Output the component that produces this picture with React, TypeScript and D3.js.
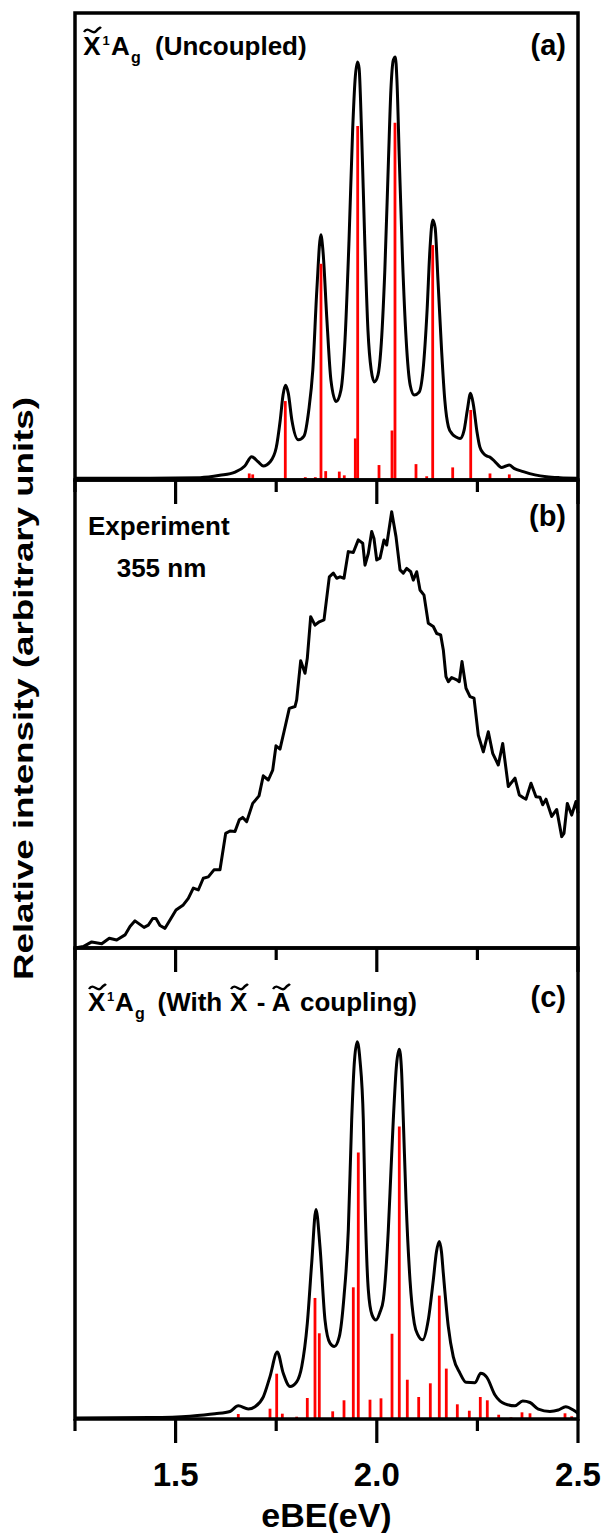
import React from "react";
import * as d3 from "d3";

// ---------- data ----------
const xDomain: [number, number] = [1.25, 2.5];
const majorTicks = [1.5, 2.0, 2.5];
const minorTicks = [1.25, 1.75, 2.25];
const tickLabels = ["1.5", "2.0", "2.5"];

// Panel (a): uncoupled envelope (eV, relative intensity)
const envA: [number, number][] = [
  [1.25, 0.4], [1.436, 0.4], [1.561, 0.5], [1.61, 1.0], [1.648, 1.7], [1.672, 3.0], [1.689, 5.0], [1.705, 3.9],
  [1.718, 3.0], [1.735, 3.9], [1.75, 6.9], [1.76, 12.8], [1.767, 18.2], [1.773, 20.3], [1.78, 18.6], [1.789, 12.8],
  [1.805, 8.6], [1.819, 9.4], [1.831, 15], [1.841, 23.6], [1.851, 40.7], [1.861, 52.5], [1.866, 49.3], [1.876, 34.3],
  [1.886, 21.4], [1.899, 16.8], [1.911, 19.3], [1.921, 30], [1.931, 51.4], [1.94, 75], [1.946, 85.7], [1.952, 89.5],
  [1.956, 88.2], [1.962, 75], [1.97, 51.4], [1.978, 32.1], [1.986, 23.6], [1.994, 21], [2.003, 22.5], [2.01, 27.8],
  [2.02, 45], [2.029, 68.5], [2.035, 83.5], [2.041, 89.9], [2.046, 90.6], [2.05, 85.7], [2.056, 68.5], [2.064, 47.1],
  [2.073, 30], [2.083, 20.3], [2.093, 18.2], [2.105, 18.8], [2.115, 23.6], [2.125, 36.4], [2.132, 49.3], [2.139, 55.7],
  [2.145, 54], [2.152, 42.8], [2.161, 27.8], [2.169, 17.1], [2.178, 11.4], [2.187, 9.9], [2.197, 9.2], [2.207, 8.9],
  [2.217, 10.7], [2.225, 15], [2.233, 18.6], [2.24, 16.1], [2.249, 10.3], [2.256, 7.1], [2.265, 5.7], [2.274, 5.1],
  [2.281, 4.9], [2.294, 3.9], [2.31, 2.7], [2.321, 3.0], [2.329, 3.2], [2.341, 2.5], [2.364, 1.8], [2.393, 1.1],
  [2.422, 0.7], [2.455, 0.5], [2.498, 0.4],
];
const sticksA: [number, number][] = [
  [1.683, 1.4], [1.6916, 1.2], [1.7726, 16.9], [1.8223, 0.6], [1.8472, 0.6], [1.8613, 46.3], [1.873, 1.9],
  [1.9068, 1.8], [1.9192, 1.0], [1.9466, 8.9], [1.9525, 75.8], [1.9938, 0.2], [2.0055, 3.2], [2.0378, 10.6],
  [2.0452, 76.5], [2.0974, 3.4], [2.124, 0.8], [2.1389, 50.3], [2.1588, 0.2], [2.1886, 2.7], [2.2334, 15],
  [2.2813, 1.4], [2.3293, 1.2],
];

// Panel (b): experiment 355 nm
const expB: [number, number][] = [
  [1.25, 0], [1.2706, 0.3], [1.2915, 1.3], [1.3164, 0.9], [1.3352, 2.1], [1.3536, 1.7], [1.3743, 2.8], [1.3867, 4.6],
  [1.3991, 5.8], [1.4215, 4.4], [1.4322, 4.9], [1.4431, 6.3], [1.4513, 6.3], [1.4612, 4.8], [1.4737, 4.2], [1.4861, 6.0],
  [1.501, 8.1], [1.5191, 9.2], [1.5316, 10.6], [1.544, 12.8], [1.5564, 12.4], [1.5688, 14.9], [1.5813, 15.2], [1.5954, 16.7],
  [1.6103, 16.7], [1.6245, 24.5], [1.6352, 25.0], [1.6476, 24.9], [1.6583, 27.4], [1.6668, 27.9], [1.6767, 27.0], [1.6916, 30.9],
  [1.7073, 32.5], [1.7179, 36.8], [1.7304, 35.9], [1.7413, 38.0], [1.7495, 43.2], [1.7594, 42.5], [1.7694, 46.2], [1.7826, 51.2],
  [1.7967, 51.6], [1.8009, 53.0], [1.8109, 61.4], [1.8216, 58.7], [1.8273, 61.9], [1.8357, 70.8], [1.8464, 69.0], [1.8571, 69.7],
  [1.8688, 70.1], [1.882, 79.3], [1.8919, 80.1], [1.9003, 79.0], [1.9086, 79.3], [1.9185, 79.0], [1.9292, 84.7], [1.9416, 84.5],
  [1.954, 87.2], [1.965, 86.5], [1.9707, 81.8], [1.9789, 84.3], [1.9873, 89.0], [1.993, 87.5], [1.9998, 82.9], [2.008, 83.3],
  [2.0179, 87.2], [2.0246, 86.1], [2.037, 93.2], [2.0477, 87.9], [2.0577, 80.8], [2.0659, 80.1], [2.0743, 81.1], [2.0843, 80.4],
  [2.0907, 78.6], [2.0992, 80.4], [2.1074, 76.5], [2.1173, 75.4], [2.128, 69.4], [2.1404, 68.7], [2.1489, 67.2], [2.1588, 66.9],
  [2.1653, 63.7], [2.1719, 58.0], [2.1777, 56.9], [2.1861, 57.8], [2.1985, 57.3], [2.205, 56.9], [2.2117, 61.2], [2.2217, 55.5],
  [2.2316, 53.7], [2.2416, 53.4], [2.2522, 45.5], [2.2647, 41.9], [2.2771, 46.2], [2.288, 41.6], [2.3019, 39.1], [2.3129, 43.7],
  [2.3268, 34.5], [2.3434, 36.3], [2.3541, 32.7], [2.3641, 32.1], [2.3708, 31.8], [2.3832, 35.2], [2.3956, 32.3], [2.4056, 32.2],
  [2.4123, 30.6], [2.4205, 31.8], [2.4347, 28.1], [2.4471, 29.6], [2.4595, 23.8], [2.4652, 24.5], [2.4734, 30.9], [2.4843, 28.4],
  [2.495, 31.3], [2.5, 28.8],
];

// Panel (c): with X-A coupling
const envC: [number, number][] = [
  [1.25, 0.2], [1.4364, 0.3], [1.5358, 0.6], [1.5979, 1.1], [1.6352, 1.6], [1.6558, 2.8], [1.6807, 2.1], [1.6973, 2.6],
  [1.718, 4.7], [1.7346, 9.0], [1.7527, 14.2], [1.7676, 9.7], [1.7843, 6.9], [1.8009, 7.9], [1.8134, 11.1], [1.8273, 20.3],
  [1.8382, 33.1], [1.8489, 44.5], [1.8588, 36.6], [1.8713, 21.0], [1.8837, 16.1], [1.8944, 15.4], [1.9068, 17.5], [1.9185, 26],
  [1.9292, 40.1], [1.9376, 63.5], [1.9446, 76.2], [1.9515, 80.1], [1.9582, 76.2], [1.9665, 63.5], [1.9707, 46.5], [1.9789, 27.4],
  [1.9881, 22.1], [1.998, 21.0], [2.008, 22.7], [2.0162, 25.3], [2.0286, 40.1], [2.0353, 52.9], [2.041, 63.5], [2.049, 75.2],
  [2.0559, 78.5], [2.0614, 74.1], [2.0659, 63.5], [2.0726, 46.5], [2.0825, 29.5], [2.0932, 20.3], [2.1024, 17.8], [2.114, 16.8],
  [2.1279, 21.0], [2.1404, 29.5], [2.1483, 35.5], [2.1553, 37.7], [2.1607, 35.5], [2.1652, 31.0], [2.1777, 19.6], [2.1901, 13.2],
  [2.2068, 9.7], [2.2217, 7.8], [2.244, 7.7], [2.2582, 9.7], [2.2731, 8.9], [2.2937, 5.1], [2.3186, 3.2], [2.3434, 2.8],
  [2.3626, 3.8], [2.3807, 3.5], [2.4014, 2.1], [2.4304, 1.6], [2.4511, 1.9], [2.4694, 2.6], [2.4883, 1.9], [2.5, 1.2],
];
const sticksC: [number, number][] = [
  [1.6558, 1.06], [1.7346, 2.19], [1.7512, 9.62], [1.7652, 1.13], [1.8009, 0.49], [1.8273, 4.46], [1.8464, 25.7],
  [1.8571, 18.2], [1.8904, 1.63], [1.9185, 3.97], [1.9416, 27.96], [1.954, 56.6], [1.9831, 4.1], [2.0104, 4.39],
  [2.0378, 18.1], [2.0559, 62.1], [2.0758, 8.34], [2.1041, 4.67], [2.133, 7.58], [2.1553, 26.2], [2.1727, 10.7],
  [2.2001, 3.12], [2.2299, 1.76], [2.2572, 4.67], [2.2746, 3.97], [2.3029, 0.91], [2.3335, 0.36], [2.3608, 1.42],
  [2.3807, 1.21], [2.4098, 0.06], [2.4677, 1.21], [2.4843, 0.57],
];

// ---------- layout ----------
const W = 608;
const H = 1533;
const left = 75;
const right = 578;
const panels = [
  { top: 13, bottom: 480 },
  { top: 480, bottom: 948 },
  { top: 948, bottom: 1419 },
];
const FONT = "'Liberation Sans', Arial, Helvetica, sans-serif";

const x = d3.scaleLinear().domain(xDomain).range([left, right]);
const yScales = panels.map((p) => d3.scaleLinear().domain([0, 100]).range([p.bottom, p.top]));

function Tilde({ x0, w, y }: { x0: number; w: number; y: number }) {
  const p = d3.path();
  p.moveTo(x0, y + 2);
  p.bezierCurveTo(x0 + w * 0.25, y - 5, x0 + w * 0.5, y + 6, x0 + w * 0.72, y + 1);
  p.bezierCurveTo(x0 + w * 0.85, y - 2, x0 + w * 0.95, y - 2, x0 + w, y - 3);
  return <path d={p.toString()} fill="none" stroke="#000" strokeWidth={2.4} />;
}

function Panel({ idx, env, sticks, curve }: { idx: number; env: [number, number][]; sticks?: [number, number][]; curve: any }) {
  const y = yScales[idx];
  const line = d3
    .line<[number, number]>()
    .x((d) => x(d[0]))
    .y((d) => y(d[1]))
    .curve(curve);
  const p = panels[idx];
  return (
    <g>
      <path d={line(env) || ""} fill="none" stroke="#000" strokeWidth={3} strokeLinejoin="round" />
      {sticks &&
        sticks.map((s, i) => (
          <line key={i} x1={x(s[0])} x2={x(s[0])} y1={y(0)} y2={y(s[1])} stroke="#ff0000" strokeWidth={2.8} />
        ))}
      <rect x={left} y={p.top} width={right - left} height={p.bottom - p.top} fill="none" stroke="#000" strokeWidth={3.5} />
      {majorTicks.map((t) => (
        <line key={"M" + t} x1={x(t)} x2={x(t)} y1={p.bottom} y2={p.bottom + 24} stroke="#000" strokeWidth={3.2} />
      ))}
      {minorTicks.map((t) => (
        <line key={"m" + t} x1={x(t)} x2={x(t)} y1={p.bottom} y2={p.bottom + 12} stroke="#000" strokeWidth={3.2} />
      ))}
    </g>
  );
}

export default function App() {
  return (
    <svg
      width={W}
      height={H}
      viewBox={`0 0 ${W} ${H}`}
      style={{ position: "absolute", left: 0, top: 0, background: "#fff" }}
      fontFamily={FONT}
      fontWeight="bold"
    >
      <rect x={0} y={0} width={W} height={H} fill="#fff" />
      <Panel idx={0} env={envA} sticks={sticksA} curve={d3.curveMonotoneX} />
      <Panel idx={1} env={expB} curve={d3.curveLinear} />
      <Panel idx={2} env={envC} sticks={sticksC} curve={d3.curveMonotoneX} />

      {/* Panel (a) title */}
      <text y={55} fontSize={26}>
        <tspan x={83.3}>X</tspan>
        <tspan x={102.5} y={45} fontSize={13}>1</tspan>
        <tspan x={111} y={55}>A</tspan>
        <tspan x={131} y={63} fontSize={16}>g</tspan>
        <tspan x={155} y={55}>(Uncoupled)</tspan>
      </text>
      <Tilde x0={84} w={17} y={30} />
      <text x={566} y={55} fontSize={29} textAnchor="end">(a)</text>

      {/* Panel (b) */}
      <text x={88} y={535} fontSize={26}>Experiment</text>
      <text x={116.7} y={577} fontSize={26}>355 nm</text>
      <text x={566} y={526} fontSize={29} textAnchor="end">(b)</text>

      {/* Panel (c) title */}
      <text y={1011} fontSize={26}>
        <tspan x={88}>X</tspan>
        <tspan x={107} y={1001} fontSize={13}>1</tspan>
        <tspan x={115} y={1011}>A</tspan>
        <tspan x={135} y={1019} fontSize={16}>g</tspan>
        <tspan x={157.5} y={1011}>(With</tspan>
        <tspan x={230}>X</tspan>
        <tspan x={256.7}>-</tspan>
        <tspan x={271.7}>A</tspan>
        <tspan x={300}>coupling)</tspan>
      </text>
      <Tilde x0={89} w={17} y={987} />
      <Tilde x0={231} w={17} y={987} />
      <Tilde x0={273} w={17} y={987} />
      <text x={566} y={1007} fontSize={29} textAnchor="end">(c)</text>

      {/* x tick labels */}
      {majorTicks.map((t, i) => (
        <text key={t} x={x(t)} y={1486} fontSize={33} textAnchor="middle">{tickLabels[i]}</text>
      ))}
      <text x={(left + right) / 2} y={1527} fontSize={34} textAnchor="middle">eBE(eV)</text>

      {/* y label */}
      <text
        transform={`translate(33, ${980 - 583 / 2}) rotate(-90)`}
        fontSize={28}
        textAnchor="middle"
        textLength={583}
        lengthAdjust="spacingAndGlyphs"
      >
        Relative intensity (arbitrary units)
      </text>
    </svg>
  );
}
